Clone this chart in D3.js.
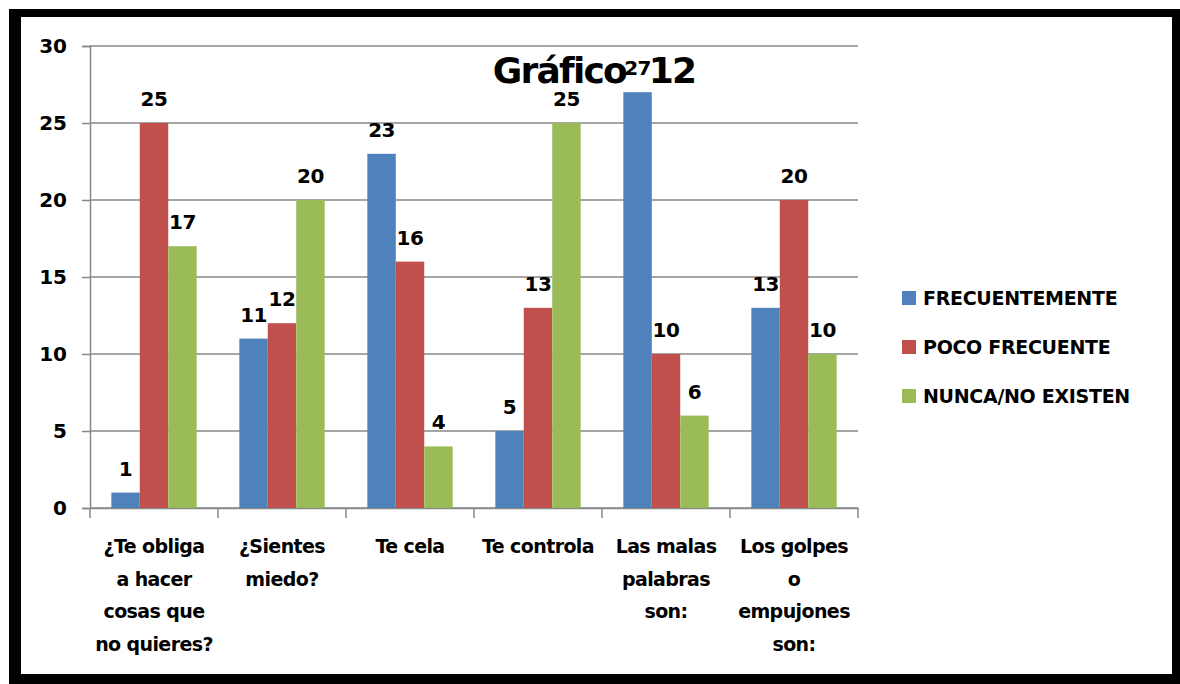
<!DOCTYPE html>
<html>
<head>
<meta charset="utf-8">
<script src="https://cdn.jsdelivr.net/npm/d3@7"></script>
<style>
  html, body { margin: 0; padding: 0; background: #fff; }
  svg { display: block; }
  text { font-family: "DejaVu Sans", sans-serif; font-weight: bold; fill: #000; }
</style>
</head>
<body>
<svg id="chart" width="1180" height="684"></svg>
<script>
const categories = [
  ["¿Te obliga", "a hacer", "cosas que", "no quieres?"],
  ["¿Sientes", "miedo?"],
  ["Te cela"],
  ["Te controla"],
  ["Las malas", "palabras", "son:"],
  ["Los golpes", "o", "empujones", "son:"]
];
const seriesNames = ["FRECUENTEMENTE", "POCO FRECUENTE", "NUNCA/NO EXISTEN"];
const frecuentemente = [1, 11, 23, 5, 27, 13];
const pocoFrecuente = [25, 12, 16, 13, 10, 20];
const nuncaNoExisten = [17, 20, 4, 25, 6, 10];
const yTicks = [0, 5, 10, 15, 20, 25, 30];
const colors = ["#4F81BD", "#C0504D", "#9BBB59"];
const titleText = "Gráfico 12";

const seriesValues = [frecuentemente, pocoFrecuente, nuncaNoExisten];
const catKeys = categories.map((c, i) => "c" + i);

const svg = d3.select("#chart");

// frame
svg.append("rect").attr("x", 9).attr("y", 9).attr("width", 1180).attr("height", 684).attr("fill", "#000");
svg.append("rect").attr("x", 21).attr("y", 17).attr("width", 1151).attr("height", 657).attr("fill", "#fff");

const x0 = d3.scaleBand().domain(catKeys).range([90, 858]).paddingInner(0).paddingOuter(0);
const x1 = d3.scaleBand().domain(seriesNames).range([0, x0.bandwidth()]).paddingInner(0).paddingOuter(0.75);
const y = d3.scaleLinear().domain([0, 30]).range([508, 46]);

// gridlines
svg.append("g").selectAll("line").data(yTicks).join("line")
  .attr("x1", 90).attr("x2", 858)
  .attr("y1", d => y(d)).attr("y2", d => y(d))
  .attr("stroke", "#888").attr("stroke-width", 1.5);

// y axis
const yAxis = svg.append("g").attr("transform", "translate(90,0)")
  .call(d3.axisLeft(y).tickValues(yTicks).tickSize(8).tickPadding(15));
yAxis.select(".domain").attr("stroke", "#888").attr("stroke-width", 1.5);
yAxis.selectAll(".tick line").attr("stroke", "#888").attr("stroke-width", 1.5);
yAxis.selectAll(".tick text").attr("font-size", 20).attr("font-family", "DejaVu Sans").attr("font-weight", "bold").attr("fill", "#000");

// x axis
const xAxis = svg.append("g").attr("transform", "translate(0,508)")
  .call(d3.axisBottom(x0).tickValues([]).tickSizeOuter(0));
xAxis.select(".domain").attr("stroke", "#888").attr("stroke-width", 1.5);
const bounds = catKeys.map(k => x0(k)).concat([x0(catKeys[catKeys.length - 1]) + x0.bandwidth()]);
xAxis.selectAll(".ctick").data(bounds).join("line").attr("class", "ctick")
  .attr("x1", d => d).attr("x2", d => d).attr("y1", 0).attr("y2", 10)
  .attr("stroke", "#888").attr("stroke-width", 1.5);

// category labels
const catG = svg.append("g");
categories.forEach((lines, i) => {
  const cx = x0(catKeys[i]) + x0.bandwidth() / 2;
  const t = catG.append("text").attr("text-anchor", "middle").attr("font-size", 19).attr("letter-spacing", -0.6);
  lines.forEach((ln, j) => {
    t.append("tspan").attr("x", cx).attr("y", 553 + j * 32.7).text(ln);
  });
});

// bars
const barData = [];
catKeys.forEach((k, i) => {
  seriesNames.forEach((s, j) => barData.push({ k, s, j, v: seriesValues[j][i] }));
});
svg.append("g").selectAll("rect").data(barData).join("rect")
  .attr("x", d => x0(d.k) + x1(d.s))
  .attr("y", d => y(d.v))
  .attr("width", x1.bandwidth())
  .attr("height", d => y(0) - y(d.v))
  .attr("fill", d => colors[d.j]);

// data labels
svg.append("g").selectAll("text").data(barData).join("text")
  .attr("x", d => x0(d.k) + x1(d.s) + x1.bandwidth() / 2)
  .attr("y", d => y(d.v) - 17)
  .attr("text-anchor", "middle")
  .attr("font-size", 20)
  .attr("letter-spacing", -0.5)
  .text(d => d.v);

// title
svg.append("text").attr("x", 594).attr("y", 83).attr("text-anchor", "middle")
  .attr("font-size", 36).attr("letter-spacing", -1.8).attr("word-spacing", 12)
  .text(titleText);

// legend
const lg = svg.append("g");
seriesNames.forEach((s, j) => {
  const cy = 298 + j * 49;
  lg.append("rect").attr("x", 902).attr("y", cy - 7).attr("width", 14).attr("height", 14).attr("fill", colors[j]);
  lg.append("text").attr("x", 923).attr("y", cy + 7).attr("font-size", 19).attr("letter-spacing", -0.3).text(s);
});
</script>
</body>
</html>
